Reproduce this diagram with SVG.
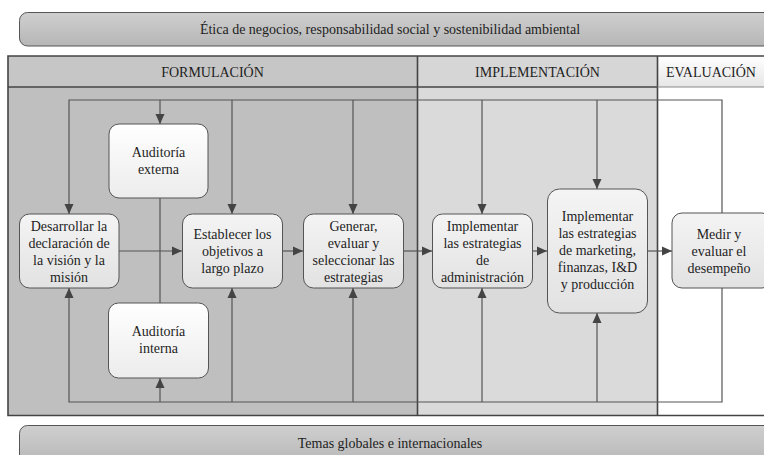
<svg xmlns="http://www.w3.org/2000/svg" width="764" height="455" viewBox="0 0 764 455">
  <style>
    text { font-family: "Liberation Serif", "Times New Roman", serif; font-size: 14px; fill: #1e1e1e; text-anchor: middle; }
    .box { fill: url(#boxGrad); stroke: #555; stroke-width: 1; }
    .boxw { fill: url(#boxGradW); stroke: #555; stroke-width: 1; }
    .banner { fill: url(#bannerGrad); stroke: #555; stroke-width: 1; }
    .frame { fill: none; stroke: #444; stroke-width: 1.6; }
    .conn { fill: none; stroke: #555; stroke-width: 1.2; }
    .arr { fill: none; stroke: #555; stroke-width: 1.2; marker-end: url(#head); }
  </style>
  <defs>
    <linearGradient id="boxGrad" x1="0" y1="0" x2="0" y2="1">
      <stop offset="0" stop-color="#f4f4f4"/>
      <stop offset="1" stop-color="#e2e2e2"/>
    </linearGradient>
    <linearGradient id="boxGradW" x1="0" y1="0" x2="0" y2="1">
      <stop offset="0" stop-color="#ffffff"/>
      <stop offset="1" stop-color="#ececec"/>
    </linearGradient>
    <linearGradient id="bannerGrad" x1="0" y1="0" x2="0" y2="1">
      <stop offset="0" stop-color="#cfcfcf"/>
      <stop offset="1" stop-color="#b6b6b6"/>
    </linearGradient>
    <linearGradient id="evalHead" x1="0" y1="0" x2="0" y2="1">
      <stop offset="0" stop-color="#ffffff"/>
      <stop offset="1" stop-color="#e6e6e6"/>
    </linearGradient>
    <marker id="head" markerUnits="userSpaceOnUse" markerWidth="10" markerHeight="10" viewBox="0 0 10 10" refX="10" refY="5" orient="auto">
      <path d="M0,0.5 L10,5 L0,9.5 z" fill="#444"/>
    </marker>
  </defs>

  <!-- top banner -->
  <g id="banner-top">
    <rect class="banner" x="19.5" y="12.5" width="760" height="33.5" rx="8"/>
    <text x="390" y="34">Ética de negocios, responsabilidad social y sostenibilidad ambiental</text>
  </g>

  <!-- bottom banner -->
  <g id="banner-bottom">
    <rect class="banner" x="19.5" y="425.5" width="760" height="40" rx="8"/>
    <text x="390" y="448">Temas globales e internacionales</text>
  </g>

  <!-- stage columns -->
  <g id="col-formulacion">
    <rect x="8" y="56" width="409.5" height="31" fill="#c6c6c6"/>
    <rect x="8" y="87" width="409.5" height="328.5" fill="#bfbfbf"/>
    <text x="212.5" y="76.5">FORMULACIÓN</text>
  </g>
  <g id="col-implementacion">
    <rect x="417.5" y="56" width="240" height="31" fill="#d6d6d6"/>
    <rect x="417.5" y="87" width="240" height="328.5" fill="#dadada"/>
    <text x="537.5" y="76.5">IMPLEMENTACIÓN</text>
  </g>
  <g id="col-evaluacion">
    <rect x="657.5" y="56" width="110" height="31" fill="url(#evalHead)"/>
    <rect x="657.5" y="87" width="110" height="328.5" fill="#ffffff"/>
    <text x="711" y="76.5">EVALUACIÓN</text>
  </g>
  <g id="frame">
    <path class="frame" d="M767,56 H8 V415.5 H767"/>
    <path class="frame" d="M8,87 H657.5"/>
    <path class="frame" d="M417.5,56 V415.5 M657.5,56 V415.5"/>
    <path d="M657.5,87 H767" stroke="#888" stroke-width="1" fill="none"/>
  </g>

  <!-- connectors -->
  <g id="connectors">
    <!-- top feedback loop -->
    <path class="arr" d="M722,213 V100 H69 V214"/>
    <path class="arr" d="M160,100 V124"/>
    <path class="arr" d="M232,100 V214"/>
    <path class="arr" d="M353,100 V214"/>
    <path class="arr" d="M482,100 V214"/>
    <path class="arr" d="M597,100 V189"/>
    <!-- bottom feedback loop -->
    <path class="arr" d="M722,288 V402 H69 V288"/>
    <path class="arr" d="M160,402 V378"/>
    <path class="arr" d="M232,402 V288"/>
    <path class="arr" d="M353,402 V288"/>
    <path class="arr" d="M482,402 V288"/>
    <path class="arr" d="M597,402 V313"/>
    <!-- audits link -->
    <path class="conn" d="M160,198 V303"/>
    <!-- main flow -->
    <path class="arr" d="M119,251 H182"/>
    <path class="arr" d="M283,251 H303"/>
    <path class="arr" d="M403,251 H432"/>
    <path class="arr" d="M532,251 H547"/>
    <path class="arr" d="M647,251 H672"/>
  </g>

  <!-- nodes -->
  <g id="auditoria-externa">
    <rect class="boxw" x="109" y="124" width="99" height="74" rx="10"/>
    <text x="158.5" y="157">Auditoría</text>
    <text x="158.5" y="174">externa</text>
  </g>
  <g id="auditoria-interna">
    <rect class="boxw" x="108.5" y="303" width="100" height="75" rx="10"/>
    <text x="158.5" y="336">Auditoría</text>
    <text x="158.5" y="353">interna</text>
  </g>
  <g id="desarrollar">
    <rect class="box" x="19.5" y="214" width="99.5" height="74" rx="10"/>
    <text x="69" y="231">Desarrollar la</text>
    <text x="69" y="248">declaración de</text>
    <text x="69" y="265">la visión y la</text>
    <text x="69" y="282">misión</text>
  </g>
  <g id="establecer">
    <rect class="box" x="182.5" y="214" width="100" height="74" rx="10"/>
    <text x="232.5" y="239">Establecer los</text>
    <text x="232.5" y="256">objetivos a</text>
    <text x="232.5" y="273">largo plazo</text>
  </g>
  <g id="generar">
    <rect class="box" x="303.5" y="214" width="100" height="74" rx="10"/>
    <text x="353.5" y="231">Generar,</text>
    <text x="353.5" y="248">evaluar y</text>
    <text x="353.5" y="265">seleccionar las</text>
    <text x="353.5" y="282">estrategias</text>
  </g>
  <g id="implementar-admin">
    <rect class="box" x="432.5" y="214" width="100" height="74" rx="10"/>
    <text x="482.5" y="231">Implementar</text>
    <text x="482.5" y="248">las estrategias</text>
    <text x="482.5" y="265">de</text>
    <text x="482.5" y="282">administración</text>
  </g>
  <g id="implementar-funcional">
    <rect class="box" x="547.5" y="189" width="100" height="124" rx="12"/>
    <text x="597.5" y="221">Implementar</text>
    <text x="597.5" y="238">las estrategias</text>
    <text x="597.5" y="255">de marketing,</text>
    <text x="597.5" y="272">finanzas, I&amp;D</text>
    <text x="597.5" y="289">y producción</text>
  </g>
  <g id="medir">
    <rect class="box" x="672" y="213" width="100" height="75" rx="10"/>
    <text x="719" y="239">Medir y</text>
    <text x="719" y="256">evaluar el</text>
    <text x="719" y="273">desempeño</text>
  </g>
</svg>
